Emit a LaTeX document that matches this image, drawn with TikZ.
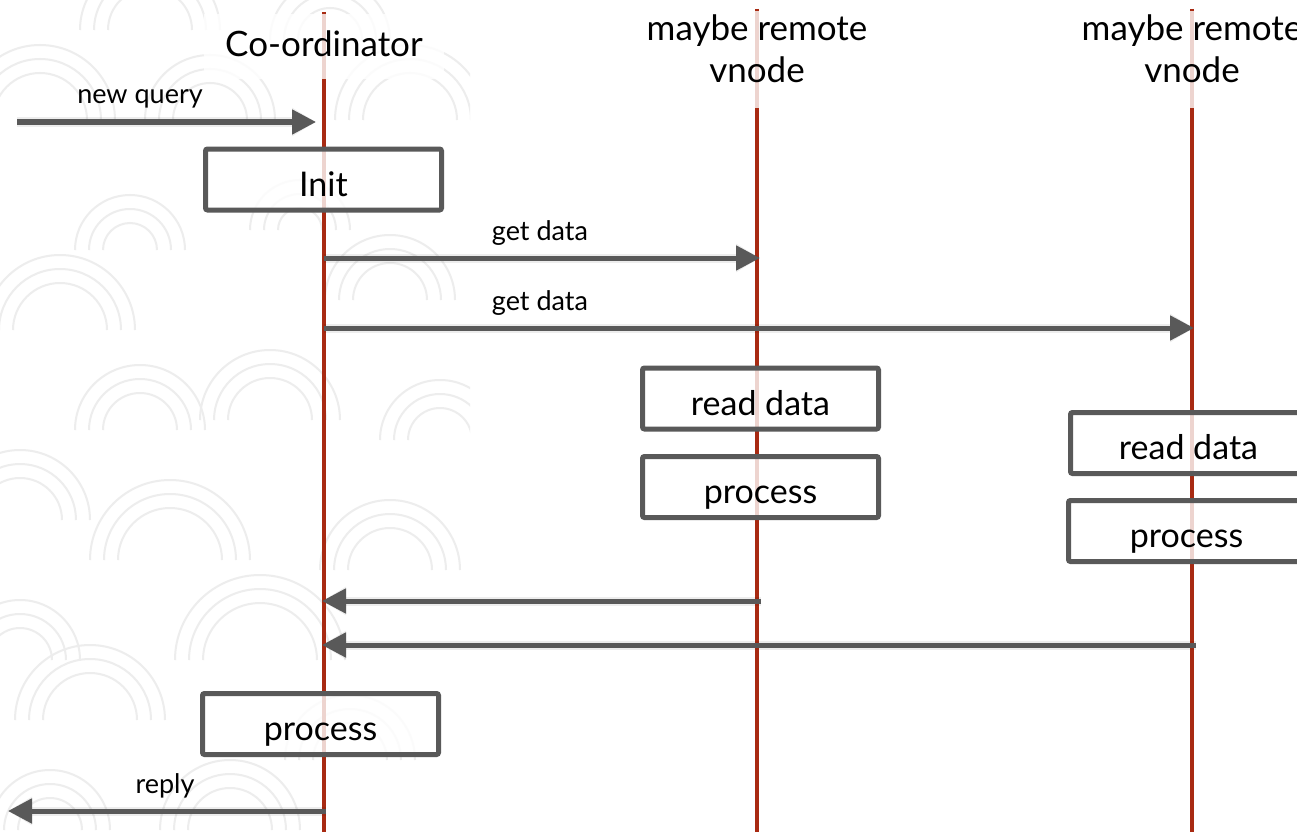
\documentclass[tikz,border=0pt]{standalone}
\usepackage{fontspec}
\setmainfont{Lato}
\usetikzlibrary{arrows.meta}
\definecolor{life}{HTML}{A82A12}
\definecolor{boxc}{HTML}{595959}
\definecolor{doodle}{HTML}{EDEDED}
\begin{document}
\begin{tikzpicture}[x=1pt,y=-1pt,
  lifeline/.style={draw=life, line width=4.5pt},
  veil/.style={fill=white, fill opacity=0.8},
  head/.style={inner sep=0pt, align=center, font=\fontsize{35}{42}\selectfont},
  stepbox/.style={draw=boxc, line width=5pt, rounded corners=2pt, fill=white, fill opacity=0.8, draw opacity=1, text opacity=1, minimum width=236pt, minimum height=61pt, inner sep=0pt, text height=33pt, text depth=0pt, font=\fontsize{34}{40}\selectfont},
  msg/.style={draw=boxc, line width=5pt, -{Triangle[length=24pt,width=24pt]}},
  msgshadow/.style={draw=black, draw opacity=0.07, line width=9pt, yshift=-4pt, -{Triangle[length=24pt,width=27pt]}},
  lbl/.style={font=\fontsize{27}{30}\selectfont, inner sep=0pt, anchor=base},
  doodlestyle/.style={draw=doodle, line width=2pt}]
\useasboundingbox (0,0) rectangle (1297,832);
\fill[white] (0,0) rectangle (1297,832);

% faint background doodles
\begin{scope}
\clip (0,0) rectangle (470,832);
\foreach \cx/\cy/\r in {60/330/75, 140/430/65, 20/520/70, 170/560/80, 260/660/85, 90/720/75, 270/420/70,
  230/830/70, 50/830/60, 390/300/65, 410/120/75, 210/120/65, 40/120/75, 390/570/70, 350/760/65,
  130/250/55, 300/230/50, 440/440/60, 20/660/60, 150/30/70, 330/40/60}{
  \draw[doodlestyle] (\cx,\cy) ++(180:\r) arc[start angle=180, end angle=360, radius=\r];
  \draw[doodlestyle] (\cx,\cy) ++(180:\r-14) arc[start angle=180, end angle=360, radius=\r-14];
  \draw[doodlestyle] (\cx,\cy) ++(180:\r-28) arc[start angle=180, end angle=360, radius=\r-28];
}
\end{scope}

% lifelines
\coordinate (c0) at (324,12);   \coordinate (c1) at (324,832);
\coordinate (v0) at (757,9);    \coordinate (v1) at (757,832);
\coordinate (w0) at (1192,9);   \coordinate (w1) at (1192,832);
\draw[lifeline] (c0) -- (c1);
\draw[lifeline] (v0) -- (v1);
\draw[lifeline] (w0) -- (w1);

% heads
\fill[veil] (204,14) rectangle (444,79);
\fill[veil] (637,11) rectangle (877,108);
\fill[veil] (1072,11) rectangle (1312,108);
\node[head, anchor=base] (hc) at (324,57) {Co-ordinator};
\node[head] (hv) at (757,49) {maybe remote\\vnode};
\node[head] (hw) at (1192,49) {maybe remote\\vnode};

% activity boxes
\node[stepbox] (init) at (323.5,179.5) {Init};
\node[stepbox] (rd1) at (760.5,398.5) {read data};
\node[stepbox] (pr1) at (760.5,487) {process};
\node[stepbox] (rd2) at (1188.5,443) {read data};
\node[stepbox] (pr2) at (1186.5,531) {process};
\node[stepbox] (prc) at (320.5,724) {process};

% message endpoints
\coordinate (nqA) at (17,122);   \coordinate (nqB) at (316,122);
\coordinate (g1A) at (324,258);  \coordinate (g1B) at (760,258);
\coordinate (g2A) at (324,328);  \coordinate (g2B) at (1194,328);
\coordinate (r1A) at (761,601);  \coordinate (r1B) at (322,601);
\coordinate (r2A) at (1196,645); \coordinate (r2B) at (322,645);
\coordinate (rpA) at (326,811);  \coordinate (rpB) at (8,811);

\foreach \a/\b in {nqA/nqB,g1A/g1B,g2A/g2B,r1A/r1B,r2A/r2B,rpA/rpB}{
  \draw[msgshadow] (\a) -- (\b);
}
\foreach \a/\b in {nqA/nqB,g1A/g1B,g2A/g2B,r1A/r1B,r2A/r2B,rpA/rpB}{
  \draw[msg] (\a) -- (\b);
}

% message labels
\node[lbl] (lnq) at (140,104) {new query};
\node[lbl] (lg1) at (540,240) {get data};
\node[lbl] (lg2) at (540,310) {get data};
\node[lbl] (lrp) at (165,793) {reply};
\end{tikzpicture}
\end{document}
